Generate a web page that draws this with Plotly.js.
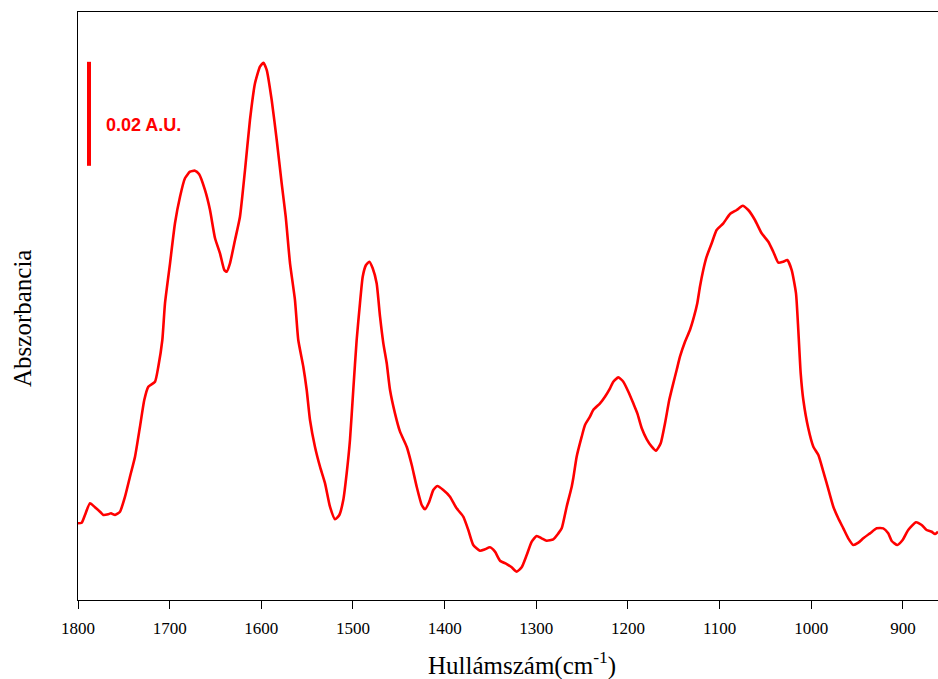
<!DOCTYPE html>
<html>
<head>
<meta charset="utf-8">
<script src="https://cdn.plot.ly/plotly-3.0.1.min.js"></script>
<style>html,body{margin:0;padding:0;background:#fff;}#chart{width:938px;height:679px;}</style>
</head>
<body>
<div id="chart"></div>
<script>
// Wavenumber (cm-1) readings
const wavenumber = [1800,1796,1792.4,1786.9,1781.5,1776,1772.4,1767,1764,1759.6,1754.2,1748.7,1743.3,1737.8,1732.4,1727.7,1723.3,1716,1712.4,1708,1705.1,1699.6,1694.2,1688.7,1683.3,1677.8,1672.4,1668,1661.5,1656,1650.5,1645.1,1640.4,1637.8,1634.2,1628.7,1623.3,1617.8,1612.4,1606.9,1601.5,1597.8,1594.1,1588.7,1583.2,1577.8,1573.4,1568.7,1563.3,1559.7,1554.2,1550.5,1546.9,1541.5,1536,1530.5,1525.1,1519.6,1514.9,1510.6,1506.9,1503.3,1499.7,1496,1492.4,1489.4,1485.8,1482.2,1478.5,1474.2,1470.5,1466.9,1463.2,1459.6,1454.2,1448.7,1441.4,1435.9,1430.5,1425,1421.5,1416.8,1412.4,1408,1401.5,1394.2,1386.9,1379.7,1374.2,1368.8,1361.5,1356,1350.6,1345.1,1339.6,1332.3,1326.9,1321.4,1316,1310.5,1305,1299.6,1294.2,1288.7,1281.5,1276,1272.3,1266.9,1261.4,1259.7,1256,1250.5,1246.9,1241.5,1237.9,1230.5,1225.1,1219.6,1216,1210.6,1205.1,1199.6,1194.2,1189.8,1185,1179.5,1174.1,1169.5,1164.3,1159.6,1155,1150.6,1146.9,1143.3,1137.8,1132.4,1128,1124.4,1121.5,1117.9,1114.2,1108.7,1103.3,1096,1088.7,1081.4,1074.9,1068.8,1061.5,1054.2,1046.9,1041.5,1036,1030.6,1026.2,1021.4,1016.7,1014.2,1011.6,1008.7,1003.3,997.8,992.3,986.9,983.2,976,970.6,965.1,959.7,954.2,948.7,943.3,936,928.7,921.5,916.1,912.3,906.2,900.4,894.3,885.8,879.6,874.2,868.7,865.1,861.8];
// Absorbance (A.U.) readings
const absorbance = [0.01475,0.01487,0.01635,0.01860,0.01783,0.01698,0.01635,0.01648,0.01667,0.01635,0.01698,0.01987,0.02371,0.02756,0.03333,0.03846,0.04102,0.04198,0.04487,0.05000,0.05706,0.06475,0.07244,0.07756,0.08110,0.08237,0.08256,0.08192,0.07885,0.07500,0.06956,0.06667,0.06346,0.06314,0.06475,0.06923,0.07371,0.08269,0.09231,0.09936,0.10256,0.10333,0.10192,0.09615,0.08846,0.08013,0.07371,0.06475,0.05769,0.05000,0.04487,0.04038,0.03462,0.02948,0.02564,0.02244,0.01794,0.01552,0.01635,0.01923,0.02436,0.03077,0.04038,0.05000,0.05706,0.06217,0.06442,0.06506,0.06379,0.06090,0.05448,0.04936,0.04552,0.04038,0.03590,0.03237,0.02948,0.02596,0.02179,0.01827,0.01744,0.01891,0.02115,0.02192,0.02115,0.01987,0.01763,0.01603,0.01346,0.01058,0.00949,0.00974,0.01013,0.00929,0.00756,0.00692,0.00628,0.00545,0.00628,0.00865,0.01122,0.01231,0.01186,0.01141,0.01167,0.01282,0.01378,0.01794,0.02179,0.02340,0.02756,0.03141,0.03365,0.03526,0.03654,0.03782,0.03910,0.04071,0.04198,0.04282,0.04198,0.04006,0.03782,0.03590,0.03302,0.03090,0.02948,0.02871,0.03013,0.03398,0.03846,0.04167,0.04423,0.04679,0.04967,0.05192,0.05448,0.05706,0.06025,0.06346,0.06602,0.06860,0.07115,0.07244,0.07423,0.07500,0.07583,0.07500,0.07308,0.07052,0.06890,0.06698,0.06487,0.06506,0.06538,0.06346,0.05898,0.05192,0.04360,0.03846,0.03302,0.02948,0.02788,0.02467,0.02244,0.01794,0.01571,0.01378,0.01186,0.01058,0.01102,0.01186,0.01282,0.01378,0.01378,0.01282,0.01135,0.01058,0.01154,0.01346,0.01494,0.01442,0.01346,0.01313,0.01269,0.01313];
const xTicks = [1800,1700,1600,1500,1400,1300,1200,1100,1000,900];
const xRange = [1800, 861.8];
const yRange = [0, 0.11308];
// Scale bar: 0.02 A.U.
const scaleBarX = 1788;
const scaleBarY = [0.0835, 0.1035];
const scaleLabel = '0.02 A.U.';
const xTitle = 'Hullámszám(cm<sup>-1</sup>)';
const yTitle = 'Abszorbancia';

const serif = '"Liberation Serif", "Times New Roman", serif';
const red = '#ff0000';

Plotly.newPlot('chart', [{
  x: wavenumber, y: absorbance, type: 'scatter', mode: 'lines',
  line: {color: red, width: 2.6, shape: 'spline', smoothing: 0.5},
  hoverinfo: 'skip'
}], {
  width: 938, height: 679,
  margin: {l: 78, r: 0, t: 12, b: 79},
  paper_bgcolor: '#fff', plot_bgcolor: '#fff',
  showlegend: false,
  xaxis: {
    range: xRange, tickvals: xTicks, ticktext: xTicks.map(String),
    ticks: 'outside', ticklen: 8, tickwidth: 1, tickcolor: '#000',
    ticklabelstandoff: 5,
    showline: true, linecolor: '#000', linewidth: 1, mirror: true,
    showgrid: false, zeroline: false,
    tickfont: {family: serif, size: 17, color: '#000'}
  },
  yaxis: {
    range: yRange, showticklabels: false, ticks: '',
    showline: true, linecolor: '#000', linewidth: 1, mirror: false,
    showgrid: false, zeroline: false
  },
  shapes: [{
    type: 'line', xref: 'x', yref: 'y',
    x0: scaleBarX, x1: scaleBarX, y0: scaleBarY[0], y1: scaleBarY[1],
    line: {color: red, width: 4}
  }],
  annotations: [{
    xref: 'x', yref: 'y', x: 1771.6, y: 0.09135,
    xanchor: 'left', yanchor: 'middle', showarrow: false,
    text: '<b>' + scaleLabel + '</b>',
    font: {family: '"Liberation Sans", Arial, sans-serif', size: 18, color: red}
  }, {
    xref: 'paper', yref: 'paper', x: (521.5 - 78) / 860, y: (600 - 664) / 588,
    xanchor: 'center', yanchor: 'middle', showarrow: false,
    text: xTitle,
    font: {family: serif, size: 25, color: '#000'}
  }, {
    xref: 'paper', yref: 'paper', x: (22 - 78) / 860, y: (600 - 319) / 588,
    xanchor: 'center', yanchor: 'middle', showarrow: false, textangle: -90,
    text: yTitle,
    font: {family: serif, size: 25, color: '#000'}
  }]
}, {staticPlot: true});
</script>
</body>
</html>
